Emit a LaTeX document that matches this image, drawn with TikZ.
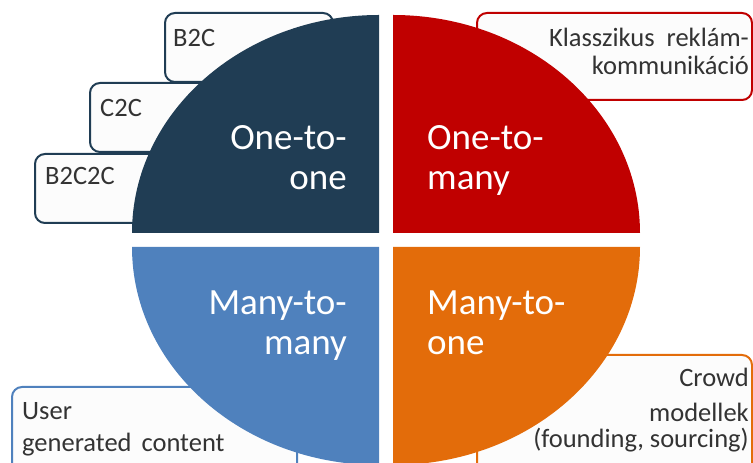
\documentclass[tikz,border=0pt]{standalone}
\usepackage{fontspec}
\setmainfont{Carlito}
\definecolor{qdark}{HTML}{203D54}
\definecolor{qred}{HTML}{C00000}
\definecolor{qblue}{HTML}{4F81BD}
\definecolor{qorange}{HTML}{E36C0A}
\definecolor{boxfill}{HTML}{FCFCFC}
\definecolor{boxtext}{HTML}{333333}
\tikzset{
  infobox/.style={draw=#1, line width=2pt, fill=boxfill, rounded corners=10pt},
  bigtext/.style={text=white, inner sep=0pt, font=\fontsize{37}{40}\selectfont},
  smalltext/.style={text=boxtext, inner sep=0pt, font=\fontsize{26.5}{31}\selectfont},
}
\begin{document}
\begin{tikzpicture}[x=1pt,y=1pt]
\useasboundingbox (0,0) rectangle (753,463);
\clip (0,0) rectangle (753,463);
% boxes behind
\path[infobox=qdark] (35,240) rectangle (330,309);
\path[infobox=qdark] (90,311) rectangle (330,380);
\path[infobox=qdark] (165,381) rectangle (333,450);
\path[infobox=qred] (477,363) rectangle (752,450);
\path[infobox=qblue] (12,-20) rectangle (297,76);
\path[infobox=qorange] (477,-20) rectangle (752,108);
% quadrants
\fill[qdark] (379,230) -- (132,230) arc[start angle=180, end angle=90, x radius=247, y radius=218] -- cycle;
\fill[qred] (393,230) -- (393,448) arc[start angle=90, end angle=0, x radius=247, y radius=218] -- cycle;
\fill[qblue] (379,216) -- (132,216) arc[start angle=180, end angle=270, x radius=247, y radius=218] -- cycle;
\fill[qorange] (393,216) -- (640,216) arc[start angle=0, end angle=-90, x radius=247, y radius=218] -- cycle;
% big labels
\node[bigtext, anchor=base east] (d1) at (347,313) {One-to-};
\node[bigtext, anchor=base east] (d2) at (347,273) {one};
\node[bigtext, anchor=base west] (r1) at (427,313) {One-to-};
\node[bigtext, anchor=base west] (r2) at (427,273) {many};
\node[bigtext, anchor=base east] (b1) at (347,148) {Many-to-};
\node[bigtext, anchor=base east] (b2) at (347,108) {many};
\node[bigtext, anchor=base west] (o1) at (427,148) {Many-to-};
\node[bigtext, anchor=base west] (o2) at (427,108) {one};
% small labels
\node[smalltext, anchor=base west] (t1) at (173,416) {B2C};
\node[smalltext, anchor=base west] (t2) at (100,346) {C2C};
\node[smalltext, anchor=base west] (t3) at (45,278) {B2C2C};
\node[smalltext, anchor=base east] (k1) at (749,416) {Klasszikus\hspace{12pt}reklám-};
\node[smalltext, anchor=base east] (k2) at (749,388) {kommunikáció};
\node[smalltext, anchor=base west] (u1) at (22,43) {User};
\node[smalltext, anchor=base west] (u2) at (22,11) {generated\hspace{10pt}content};
\node[smalltext, anchor=base east] (c1) at (749,76) {Crowd};
\node[smalltext, anchor=base east] (c2) at (749,41) {modellek};
\node[smalltext, anchor=base east] (c3) at (749,15) {(founding, sourcing)};
\end{tikzpicture}
\end{document}
